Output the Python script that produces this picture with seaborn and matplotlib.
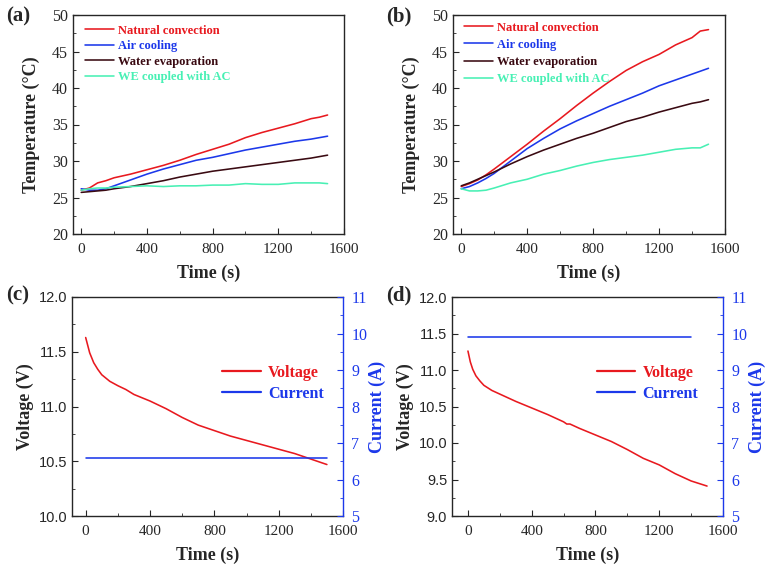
import matplotlib
matplotlib.use("Agg")
import matplotlib.pyplot as plt
import seaborn as sns
import pandas as pd
from matplotlib.ticker import MultipleLocator, FormatStrFormatter
from matplotlib.lines import Line2D

# ---------------- data ----------------
series_names = ["Natural convection", "Air cooling", "Water evaporation", "WE coupled with AC"]
series_colors = ["#e8191f", "#1c38ea", "#3a0a12", "#48f0b4"]

time_ab = [0, 50, 100, 150, 200, 300, 400, 500, 600, 700, 800, 900, 1000, 1100, 1200, 1300, 1400, 1450, 1500]

a_nc = [26.0, 26.3, 27.0, 27.3, 27.7, 28.2, 28.8, 29.4, 30.1, 30.9, 31.6, 32.3, 33.2, 33.9, 34.5, 35.1, 35.8, 36.0, 36.3]
a_ac = [26.2, 26.0, 26.0, 26.2, 26.6, 27.4, 28.2, 28.9, 29.5, 30.1, 30.5, 31.0, 31.5, 31.9, 32.3, 32.7, 33.0, 33.2, 33.4]
a_we = [25.7, 25.8, 25.9, 26.0, 26.2, 26.5, 26.9, 27.3, 27.8, 28.2, 28.6, 28.9, 29.2, 29.5, 29.8, 30.1, 30.4, 30.6, 30.8]
a_wac = [26.0, 26.2, 26.3, 26.3, 26.4, 26.5, 26.6, 26.5, 26.6, 26.6, 26.7, 26.7, 26.9, 26.8, 26.8, 27.0, 27.0, 27.0, 26.9]

b_nc = [26.5, 26.9, 27.4, 28.1, 28.9, 30.6, 32.3, 34.1, 35.8, 37.6, 39.3, 40.9, 42.4, 43.6, 44.6, 45.9, 46.9, 47.8, 48.0]
b_ac = [26.2, 26.5, 27.0, 27.6, 28.3, 30.0, 31.7, 33.1, 34.4, 35.5, 36.5, 37.5, 38.4, 39.3, 40.3, 41.1, 41.9, 42.3, 42.7]
b_we = [26.6, 27.0, 27.5, 28.0, 28.5, 29.6, 30.6, 31.5, 32.3, 33.1, 33.8, 34.6, 35.4, 36.0, 36.7, 37.3, 37.9, 38.1, 38.4]
b_wac = [26.2, 25.9, 25.9, 26.0, 26.3, 27.0, 27.5, 28.2, 28.7, 29.3, 29.8, 30.2, 30.5, 30.8, 31.2, 31.6, 31.8, 31.8, 32.3]

time_c = [0, 25, 50, 75, 100, 150, 200, 250, 300, 400, 500, 600, 700, 800, 900, 1000, 1100, 1200, 1300, 1400, 1500]
volt_c = [11.63, 11.49, 11.40, 11.34, 11.29, 11.23, 11.19, 11.155, 11.11, 11.05, 10.98, 10.90, 10.83, 10.78, 10.73, 10.69, 10.65, 10.61, 10.57, 10.52, 10.47]
curr_time_c = [0, 1500]
curr_c = [6.6, 6.6]

time_d = [0, 15, 30, 50, 75, 100, 150, 200, 300, 400, 500, 600, 620, 640, 700, 800, 900, 1000, 1100, 1200, 1300, 1400, 1500]
volt_d = [11.26, 11.11, 11.01, 10.92, 10.85, 10.79, 10.72, 10.67, 10.57, 10.48, 10.39, 10.29, 10.26, 10.26, 10.20, 10.11, 10.02, 9.91, 9.79, 9.70, 9.58, 9.48, 9.41]
curr_time_d = [0, 1400]
curr_d = [9.9, 9.9]

volt_color = "#e8191f"
curr_color = "#1c38ea"

# ---------------- style ----------------
sns.set_style("ticks")
plt.rcParams.update({
    "font.family": ["Liberation Serif", "DejaVu Serif"],
    "xtick.direction": "in",
    "ytick.direction": "in",
    "axes.linewidth": 1.0,
    "xtick.major.size": 4, "ytick.major.size": 4,
    "xtick.minor.size": 2, "ytick.minor.size": 2,
    "xtick.labelsize": 11, "ytick.labelsize": 11.5,
    "xtick.major.pad": 6.5,
})

W, H = 769, 566
fig = plt.figure(figsize=(W / 100, H / 100), dpi=100)

def rect(l, r, t, b):
    return [l / W, 1 - b / H, (r - l) / W, (b - t) / H]

ax_a = fig.add_axes(rect(73, 344, 15, 234))
ax_b = fig.add_axes(rect(453, 725, 15, 234))
ax_c = fig.add_axes(rect(72, 343, 297, 516))
ax_d = fig.add_axes(rect(452, 723, 297, 516))

label_font = dict(fontsize=13, fontweight="bold")
LW = 1.15


def temp_panel(ax, data, legend_anchor, spacing):
    df = pd.DataFrame({
        "Time": time_ab * 4,
        "Temp": sum(data, []),
        "Case": [n for n in series_names for _ in time_ab],
    })
    sns.lineplot(data=df, x="Time", y="Temp", hue="Case", hue_order=series_names,
                 palette=series_colors, ax=ax, lw=LW, errorbar=None)
    ax.set_xlim(-50, 1600)
    ax.set_ylim(20, 50)
    ax.xaxis.set_major_locator(MultipleLocator(400))
    ax.xaxis.set_minor_locator(MultipleLocator(200))
    ax.yaxis.set_major_locator(MultipleLocator(5))
    ax.yaxis.set_minor_locator(MultipleLocator(2.5))
    ax.set_xlabel("Time (s)", labelpad=6, **label_font)
    ax.set_ylabel("Temperature (°C)", labelpad=9, **label_font)
    for s in ax.spines.values():
        s.set_visible(True)
    ax.tick_params(top=False, right=False, which="both")
    ax.legend(loc="upper left", bbox_to_anchor=legend_anchor, frameon=False,
              prop={"weight": "bold", "size": 9}, labelcolor="linecolor",
              handlelength=2.3, handletextpad=0.35, labelspacing=spacing,
              borderaxespad=0, borderpad=0)


temp_panel(ax_a, [a_nc, a_ac, a_we, a_wac], (0.045, 0.955), 0.28)
temp_panel(ax_b, [b_nc, b_ac, b_we, b_wac], (0.04, 0.97), 0.42)


def volt_panel(ax, t, v, tc, c, xmin, ylo, legend_anchor):
    sns.lineplot(x=t, y=v, ax=ax, color=volt_color, lw=LW, errorbar=None)
    ax.set_xlim(xmin, 1600)
    ax.set_ylim(ylo, 12.0)
    ax.xaxis.set_major_locator(MultipleLocator(400))
    ax.xaxis.set_minor_locator(MultipleLocator(200))
    ax.yaxis.set_major_locator(MultipleLocator(0.5))
    ax.yaxis.set_minor_locator(MultipleLocator(0.25))
    ax.yaxis.set_major_formatter(FormatStrFormatter("%.1f"))
    ax.tick_params(axis="y", labelfontfamily="Liberation Sans", labelsize=10.5)
    ax.tick_params(top=False, right=False, which="both")
    ax.set_xlabel("Time (s)", labelpad=6, **label_font)
    ax.set_ylabel("Voltage (V)", labelpad=3, **label_font)
    ax.spines["right"].set_visible(False)

    ax2 = ax.twinx()
    sns.lineplot(x=tc, y=c, ax=ax2, color=curr_color, lw=LW, errorbar=None)
    ax2.set_ylim(5, 11)
    ax2.yaxis.set_major_locator(MultipleLocator(1))
    ax2.yaxis.set_minor_locator(MultipleLocator(0.5))
    ax2.tick_params(axis="y", which="both", colors=curr_color, direction="in")
    ax2.tick_params(axis="y", labelsize=11.5, pad=6)
    ax2.spines["right"].set_color(curr_color)
    ax2.spines["right"].set_visible(True)
    for k in ("left", "top", "bottom"):
        ax2.spines[k].set_visible(False)
    ax2.set_ylabel("Current (A)", color=curr_color, labelpad=1, **label_font)

    handles = [Line2D([], [], color=volt_color, lw=1.6), Line2D([], [], color=curr_color, lw=1.6)]
    ax2.legend(handles, ["Voltage", "Current"], loc="upper left", bbox_to_anchor=legend_anchor,
               frameon=False, prop={"weight": "bold", "size": 11.5}, labelcolor="linecolor",
               handlelength=2.4, handletextpad=0.45, labelspacing=0.3,
               borderaxespad=0, borderpad=0)


volt_panel(ax_c, time_c, volt_c, curr_time_c, curr_c, -85, 10.0, (0.555, 0.69))
volt_panel(ax_d, time_d, volt_d, curr_time_d, curr_d, -100, 9.0, (0.535, 0.69))

for lbl, x, y in [("(a)", 6, 21), ("(b)", 386, 21), ("(c)", 6, 300), ("(d)", 386, 300)]:
    fig.text(x / W, 1 - y / H, lbl, fontsize=15, fontweight="bold", ha="left", va="baseline")

fig.savefig("out.png", dpi=100)
